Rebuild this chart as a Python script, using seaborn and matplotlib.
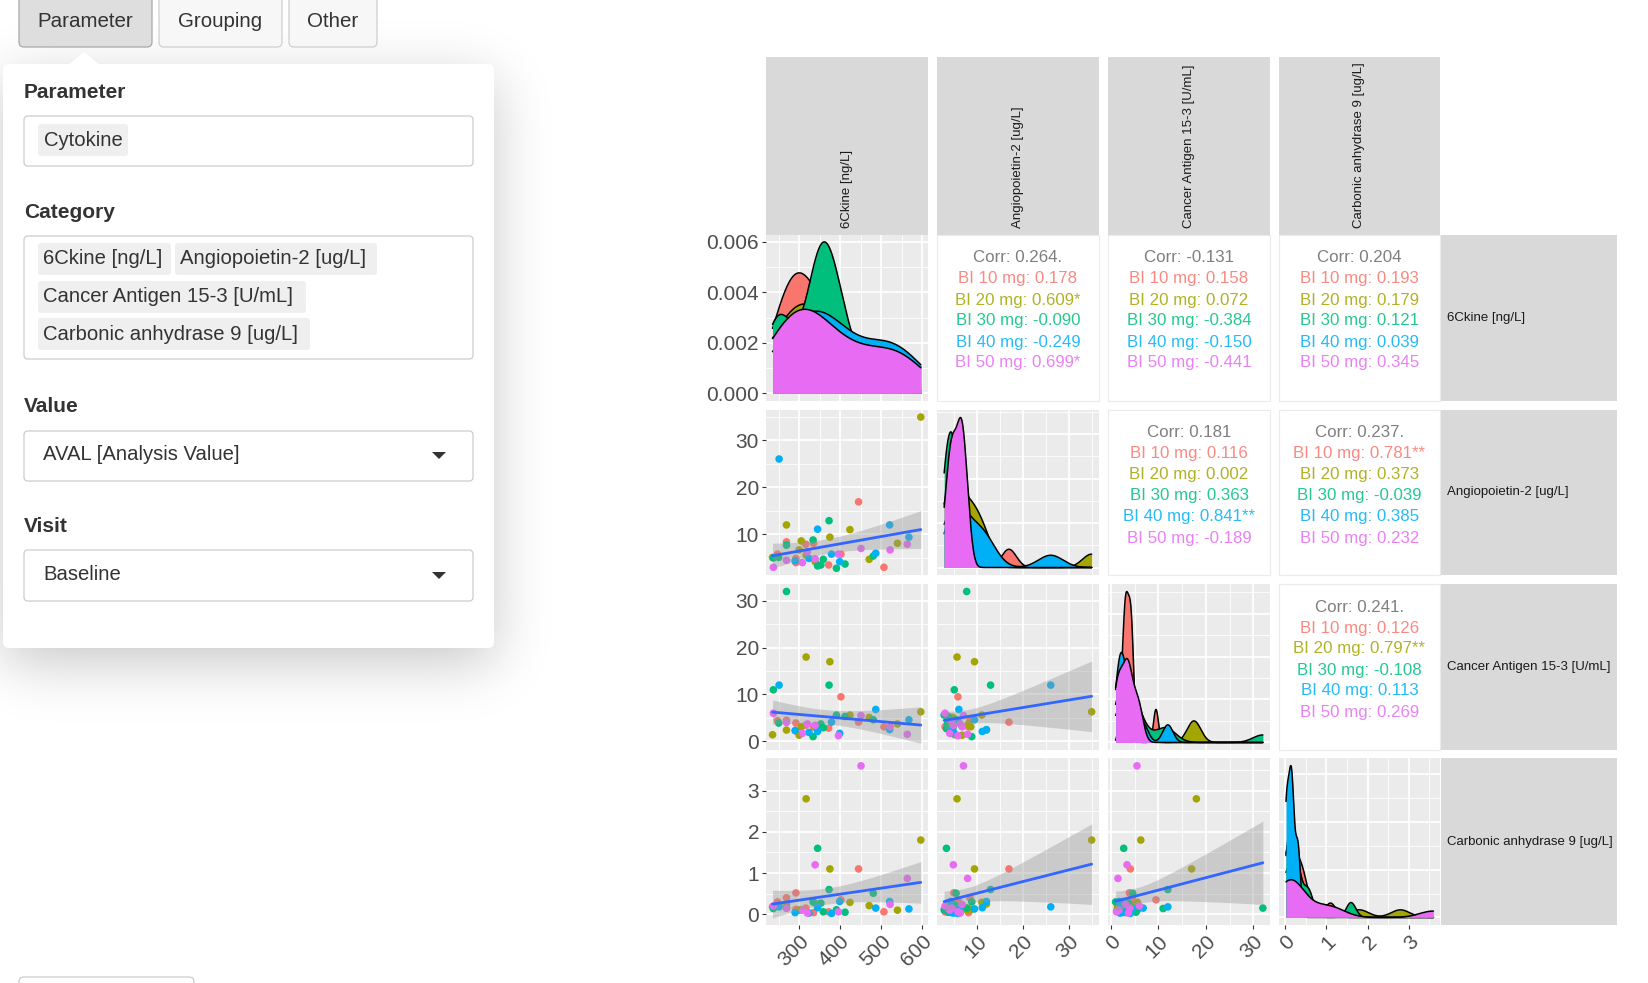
import math
import numpy as np
import pandas as pd
import matplotlib
matplotlib.use("Agg")
import matplotlib.pyplot as plt
import seaborn as sns
from matplotlib.patches import FancyBboxPatch, Polygon
from matplotlib.ticker import MaxNLocator, AutoMinorLocator

sns.set_theme(style="white")
plt.rcParams["font.family"] = ["Liberation Sans", "DejaVu Sans"]

W, H = 1649, 983

# ---------------- data ----------------
groups = ["BI 10 mg", "BI 20 mg", "BI 30 mg", "BI 40 mg", "BI 50 mg"]
palette = ["#F8766D", "#A3A500", "#00BF7D", "#00B0F6", "#E76BF3"]
variables = ["6Ckine [ng/L]", "Angiopoietin-2 [ug/L]",
             "Cancer Antigen 15-3 [U/mL]", "Carbonic anhydrase 9 [ug/L]"]

arm = (["BI 10 mg"] * 10 + ["BI 20 mg"] * 11 + ["BI 30 mg"] * 11
       + ["BI 40 mg"] * 9 + ["BI 50 mg"] * 9)
ckine = [445, 269, 335, 316, 402, 292, 292, 372, 507, 247,
         269, 424, 375, 540, 305, 300, 471, 235, 339, 597, 317,
         373, 269, 334, 481, 237, 250, 345, 353, 359, 391, 412,
         345, 521, 568, 379, 487, 324, 399, 251, 290,
         564, 522, 451, 320, 396, 237, 308, 339, 269]
angio = [16.9, 8.4, 8.1, 7.9, 5.8, 4.9, 4.0, 3.5, 3.0, 5.8,
         12.0, 11.0, 9.4, 8.1, 8.6, 6.7, 4.7, 5.1, 4.2, 34.9, 5.6,
         12.9, 7.7, 8.8, 5.4, 5.0, 5.1, 3.3, 3.5, 4.7, 2.8, 3.7,
         11.1, 12.0, 9.4, 5.8, 6.0, 4.9, 4.2, 26.0, 4.4,
         7.9, 6.7, 7.0, 6.3, 5.8, 3.0, 4.0, 4.8, 4.5]
ca153 = [4.1, 4.5, 3.1, 3.4, 9.5, 3.9, 2.2, 2.8, 3.1, 4.4,
         2.4, 5.6, 17.0, 3.7, 3.1, 1.3, 5.1, 1.4, 3.0, 6.3, 18.0,
         12.0, 32.0, 1.0, 4.6, 11.0, 3.9, 2.7, 3.7, 2.9, 5.6, 5.3,
         2.1, 2.5, 4.6, 4.1, 6.8, 1.9, 1.7, 12.0, 2.3,
         1.5, 3.1, 5.5, 3.7, 1.2, 6.0, 1.7, 3.4, 4.0]
ca9 = [1.1, 0.4, 0.04, 0.15, 0.35, 0.52, 0.12, 0.06, 0.06, 0.3,
       0.25, 0.29, 1.1, 0.10, 0.11, 0.10, 0.21, 0.18, 0.27, 1.8, 2.8,
       0.6, 0.15, 0.3, 0.51, 0.14, 0.22, 1.6, 0.27, 0.06, 0.11, 0.05,
       0.16, 0.31, 0.13, 0.02, 0.15, 0.03, 0.31, 0.18, 0.04,
       0.87, 0.24, 3.6, 0.03, 0.06, 0.2, 0.1, 1.2, 0.15]

# correlation labels: overall, then per group
corr_ckine_angio = ["0.264.", "0.178", "0.609*", "-0.090", "-0.249", "0.699*"]
corr_ckine_ca153 = ["-0.131", "0.158", "0.072", "-0.384", "-0.150", "-0.441"]
corr_ckine_ca9 = ["0.204", "0.193", "0.179", "0.121", "0.039", "0.345"]
corr_angio_ca153 = ["0.181", "0.116", "0.002", "0.363", "0.841**", "-0.189"]
corr_angio_ca9 = ["0.237.", "0.781**", "0.373", "-0.039", "0.385", "0.232"]
corr_ca153_ca9 = ["0.241.", "0.126", "0.797**", "-0.108", "0.113", "0.269"]

df = pd.DataFrame({"arm": arm, variables[0]: ckine, variables[1]: angio,
                   variables[2]: ca153, variables[3]: ca9})

corr_map = {(0, 1): corr_ckine_angio, (0, 2): corr_ckine_ca153,
            (0, 3): corr_ckine_ca9, (1, 2): corr_angio_ca153,
            (1, 3): corr_angio_ca9, (2, 3): corr_ca153_ca9}

# ---------------- layout / style ----------------
col_x = [(766, 928), (937, 1099), (1108, 1270), (1279, 1440)]
row_y = [(235, 401), (410, 575), (584, 750), (758, 925)]
lims = [(219, 614.6), (1.24, 36.5), (-0.6, 33.5), (-0.15, 3.76)]
row_lims = [(-0.000305, 0.00627), (1.37, 36.4), (-1.86, 33.6), (-0.26, 3.79)]
major = [[300, 400, 500, 600], [10, 20, 30], [0, 10, 20, 30], [0, 1, 2, 3]]
minor = [[250, 350, 450, 550], [5, 15, 25, 35], [5, 15, 25], [0.5, 1.5, 2.5, 3.5]]
row1_major = [0, 0.002, 0.004, 0.006]
row1_minor = [0.001, 0.003, 0.005]

PANEL_BG = "#EBEBEB"
STRIP_BG = "#D9D9D9"
TICK_TXT = "#4D4D4D"
T_975 = 2.0106  # t quantile, df = n - 2 = 48


def rect(x0, y0, x1, y1):
    return [x0 / W, 1 - y1 / H, (x1 - x0) / W, (y1 - y0) / H]


def nrd0(kde):
    d = np.asarray(kde.dataset).ravel()
    sd = d.std(ddof=1)
    q75, q25 = np.percentile(d, [75, 25])
    lo = min(sd, (q75 - q25) / 1.34)
    if lo <= 0:
        lo = sd
    return 0.9 * lo * len(d) ** (-0.2) / sd


fig = plt.figure(figsize=(W / 100, H / 100), dpi=100)
fig.patch.set_facecolor("white")

# ---------------- left UI panel ----------------
ui = fig.add_axes([0, 0, 1, 1], zorder=0)
ui.set_xlim(0, W)
ui.set_ylim(H, 0)
ui.axis("off")

xs = np.arange(0, 700) + 0.5
ys = np.arange(0, H) + 0.5
erf = np.vectorize(math.erf)
sig = 28 * math.sqrt(2)
bx = 0.5 * (erf((xs - 3) / sig) - erf((xs - 494) / sig))
by = 0.5 * (erf((ys - 79) / sig) - erf((ys - 663) / sig))
shadow = np.zeros((H, 700, 4))
shadow[..., 3] = 0.22 * np.outer(by, bx)
ui.imshow(shadow, extent=(0, 700, H, 0), zorder=1, interpolation="bilinear")


def rbox(x0, y0, x1, y1, fc, ec, r=4, lw=0.9, z=3):
    ui.add_patch(FancyBboxPatch((x0, y0), x1 - x0, y1 - y0,
                                boxstyle=f"round,pad=0,rounding_size={r}",
                                fc=fc, ec=ec, lw=lw, zorder=z))


rbox(19, -10, 152, 47, "#DEDEDE", "#A8A8A8", r=5)
rbox(159, -10, 282, 47, "#F7F7F7", "#CFCFCF", r=5)
rbox(289, -10, 377, 47, "#F7F7F7", "#CFCFCF", r=5)
ui.text(85.5, 21, "Parameter", fontsize=14.8, color="#333333", ha="center", va="center", zorder=5)
ui.text(220.5, 21, "Grouping", fontsize=14.8, color="#333333", ha="center", va="center", zorder=5)
ui.text(333, 21, "Other", fontsize=14.8, color="#333333", ha="center", va="center", zorder=5)

rbox(3, 64, 494, 648, "white", "none", r=6, lw=0, z=3)
ui.add_patch(Polygon([(68, 65), (84, 52), (100, 65)], closed=True, fc="white", ec="none", zorder=4))

LBL = dict(fontsize=15, color="#333333", fontweight="bold", ha="left", va="center", zorder=5)
TXT = dict(fontsize=14.6, color="#333333", ha="left", va="center", zorder=6)

ui.text(24, 92, "Parameter", **LBL)
rbox(24, 116, 473, 166, "white", "#CCCCCC")
rbox(38, 124, 128, 156, "#EFEFEF", "none", r=3, lw=0, z=4)
ui.text(44, 140, "Cytokine", **TXT)

ui.text(24, 212, "Category", **LBL)
rbox(24, 236, 473, 359, "white", "#CCCCCC")
tags = [(38, 171, 259, variables[0]), (175, 377, 259, variables[1]),
        (38, 306, 297, variables[2]), (38, 310, 334, variables[3])]
for x0, x1, yc, t in tags:
    rbox(x0, yc - 16, x1, yc + 16, "#EFEFEF", "none", r=3, lw=0, z=4)
    ui.text(x0 + 5.5, yc, t, **TXT)

ui.text(24, 406, "Value", **LBL)
rbox(24, 431, 473, 481, "white", "#CCCCCC")
ui.text(43, 455, "AVAL [Analysis Value]", **TXT)
ui.add_patch(Polygon([(432, 452), (446, 452), (439, 459)], closed=True, fc="#333333", ec="none", zorder=5))

ui.text(24, 526, "Visit", **LBL)
rbox(24, 550, 473, 601, "white", "#CCCCCC")
ui.text(43, 575, "Baseline", **TXT)
ui.add_patch(Polygon([(432, 572), (446, 572), (439, 579)], closed=True, fc="#333333", ec="none", zorder=5))

rbox(19, 977, 194, 1010, "white", "#CCCCCC", r=5)

# ---------------- pairs plot ----------------
for i in range(4):
    for j in range(4):
        (x0, x1), (y0, y1) = col_x[j], row_y[i]
        ax = fig.add_axes(rect(x0, y0, x1, y1), zorder=2)
        for s in ax.spines.values():
            s.set_visible(False)
        if j > i:
            ax.set_facecolor("white")
            for s in ax.spines.values():
                s.set_visible(True)
                s.set_color("#EBEBEB")
                s.set_linewidth(0.8)
            ax.set_xticks([])
            ax.set_yticks([])
            vals = corr_map[(i, j)]
            hpx = y1 - y0
            ax.text(0.5, 1 - 23 / hpx, "Corr: " + vals[0], transform=ax.transAxes,
                    ha="center", va="center", fontsize=12.2, color="#7F7F7F")
            for k, (g, c) in enumerate(zip(groups, palette)):
                ax.text(0.5, 1 - (23 + 21 * (k + 1)) / hpx, f"{g}: {vals[k + 1]}",
                        transform=ax.transAxes, ha="center", va="center",
                        fontsize=12.2, color=c, alpha=0.85)
            continue

        ax.set_facecolor(PANEL_BG)
        var_x = variables[j]
        if i == j:
            lo, hi = df[var_x].min(), df[var_x].max()
            for k, (g, c) in enumerate(zip(groups, palette)):
                sub = df.loc[df["arm"] == g, var_x]
                sns.kdeplot(x=sub, ax=ax, fill=True, color=c, alpha=1, linewidth=0,
                            bw_method=nrd0, cut=100, clip=(lo, hi), gridsize=512,
                            zorder=3 + 2 * k)
                sns.kdeplot(x=sub, ax=ax, color="black", linewidth=1.1,
                            bw_method=nrd0, cut=100, clip=(lo, hi), gridsize=512,
                            zorder=4 + 2 * k)
            if i == 0:
                ax.set_ylim(*row_lims[0])
                ax.set_yticks(row1_major)
                ax.set_yticks(row1_minor, minor=True)
            else:
                ymax = ax.get_ylim()[1] / 1.05
                ax.set_ylim(-0.05 * ymax, 1.05 * ymax)
                ax.yaxis.set_major_locator(MaxNLocator(4))
                ax.yaxis.set_minor_locator(AutoMinorLocator(2))
        else:
            var_y = variables[i]
            sns.scatterplot(data=df, x=var_x, y=var_y, hue="arm", hue_order=groups,
                            palette=palette, s=30, linewidth=0, legend=False, ax=ax,
                            zorder=3)
            # linear fit with 95% confidence band (as geom_smooth(method = "lm"))
            xv = df[var_x].to_numpy(float)
            yv = df[var_y].to_numpy(float)
            n = len(xv)
            slope, icpt = np.polyfit(xv, yv, 1)
            resid = yv - (icpt + slope * xv)
            s_err = np.sqrt(np.sum(resid ** 2) / (n - 2))
            grid = np.linspace(xv.min(), xv.max(), 80)
            se = s_err * np.sqrt(1 / n + (grid - xv.mean()) ** 2 / np.sum((xv - xv.mean()) ** 2))
            fit = icpt + slope * grid
            ax.fill_between(grid, fit - T_975 * se, fit + T_975 * se,
                            color="#999999", alpha=0.4, linewidth=0, zorder=4)
            sns.regplot(data=df, x=var_x, y=var_y, scatter=False, ax=ax, ci=None,
                        color="#3366FF", truncate=True,
                        line_kws={"linewidth": 2.0, "zorder": 5})
            ax.set_ylim(*row_lims[i])
            ax.set_yticks(major[i])
            ax.set_yticks(minor[i], minor=True)

        ax.set_xlim(*lims[j])
        ax.set_xticks(major[j])
        ax.set_xticks(minor[j], minor=True)
        ax.set_xlabel("")
        ax.set_ylabel("")
        ax.set_axisbelow(True)
        ax.grid(which="major", color="white", linewidth=1.25)
        ax.grid(which="minor", color="white", linewidth=0.6)

        show_y = (j == 0)
        show_x = (i == 3)
        ax.tick_params(axis="y", which="major", left=show_y, labelleft=show_y,
                       length=3, width=0.8, color="#333333", pad=2,
                       labelsize=15, labelcolor=TICK_TXT)
        ax.tick_params(axis="x", which="major", bottom=show_x, labelbottom=show_x,
                       length=3, width=0.8, color="#333333", pad=2,
                       labelsize=15, labelcolor=TICK_TXT)
        ax.tick_params(which="minor", left=False, bottom=False)
        if show_y:
            if i == 0:
                ax.set_yticklabels([f"{v:.3f}" for v in row1_major])
            else:
                ax.set_yticklabels([f"{v:g}" for v in major[i]])
        if show_x:
            ax.set_xticklabels([f"{v:g}" for v in major[j]], rotation=45,
                               ha="right", va="top", rotation_mode="anchor")

for j, (x0, x1) in enumerate(col_x):
    sa = fig.add_axes(rect(x0, 57, x1, 235), zorder=2)
    sa.set_facecolor(STRIP_BG)
    sa.set_xticks([])
    sa.set_yticks([])
    for s in sa.spines.values():
        s.set_visible(False)
    sa.text(0.5, 7 / 178, variables[j], rotation=90, transform=sa.transAxes,
            ha="center", va="bottom", fontsize=9.5, color="#1A1A1A")

for i, (y0, y1) in enumerate(row_y):
    sa = fig.add_axes(rect(1441, y0, 1617, y1), zorder=2)
    sa.set_facecolor(STRIP_BG)
    sa.set_xticks([])
    sa.set_yticks([])
    for s in sa.spines.values():
        s.set_visible(False)
    sa.text(6 / 176, 0.5, variables[i], transform=sa.transAxes,
            ha="left", va="center", fontsize=9.5, color="#1A1A1A")

fig.savefig("out.png", dpi=100, facecolor="white")
